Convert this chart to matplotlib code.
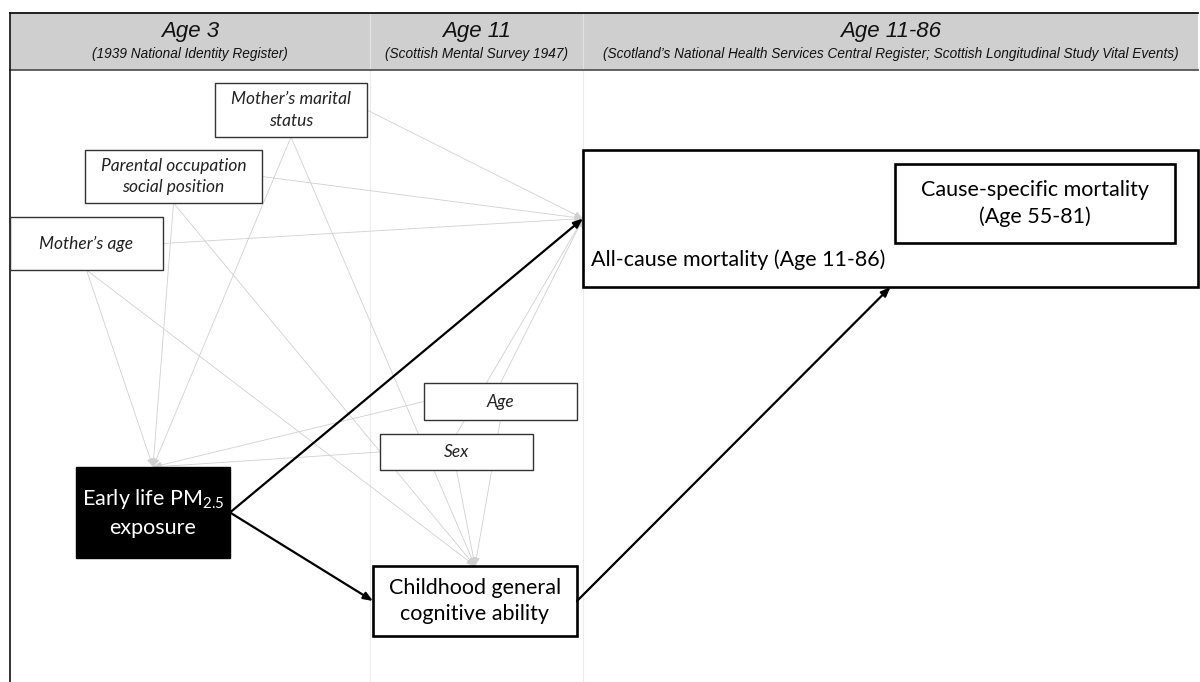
"""DAG: early life PM2.5 exposure, childhood cognitive ability and mortality."""
import matplotlib
matplotlib.use('Agg')
import matplotlib.pyplot as plt
import matplotlib.patches as mpatches

plt.rcParams.update({
    'font.family': 'Lato',
    'mathtext.fontset': 'custom',
    'mathtext.rm': 'Lato',
    'mathtext.it': 'Lato:italic',
})

# ---- content ----
periods = ['Age 3', 'Age 11', 'Age 11-86']
sources = ['(1939 National Identity Register)',
           '(Scottish Mental Survey 1947)',
           "(Scotland\u2019s National Health Services Central Register; "
           "Scottish Longitudinal Study Vital Events)"]

confounders = ['marital', 'parental', 'mage', 'age', 'sex']
labels = {
    'marital': 'Mother\u2019s marital\nstatus',
    'parental': 'Parental occupation\nsocial position',
    'mage': 'Mother\u2019s age',
    'age': 'Age',
    'sex': 'Sex',
    'pm': 'Early life PM$_{2.5}$\nexposure',
    'cog': 'Childhood general\ncognitive ability',
    'allcause': 'All-cause mortality (Age 11-86)',
    'cause': 'Cause-specific mortality\n(Age 55-81)',
}

# edges: (source, source side, target, target side)
gray_edges = [
    ('mage', 'bottom', 'pm', 'top'), ('mage', 'bottom', 'cog', 'top'),
    ('mage', 'right', 'allcause', 'left'),
    ('parental', 'bottom', 'pm', 'top'), ('parental', 'bottom', 'cog', 'top'),
    ('parental', 'right', 'allcause', 'left'),
    ('marital', 'bottom', 'pm', 'top'), ('marital', 'bottom', 'cog', 'top'),
    ('marital', 'right', 'allcause', 'left'),
    ('sex', 'left', 'pm', 'top'), ('sex', 'bottom', 'cog', 'top'),
    ('sex', 'top', 'allcause', 'left'),
    ('age', 'left', 'pm', 'top'), ('age', 'bottom', 'cog', 'top'),
    ('age', 'top', 'allcause', 'left'),
]
main_edges = [
    ('pm', 'right', 'allcause', 'left'),
    ('pm', 'right', 'cog', 'left'),
    ('cog', 'right', 'allcause', 'bottom'),
]

# ---- layout (pixel units, y downwards) ----
W, H = 1200, 682
boxes = {  # x0, y0, x1, y1
    'marital': (215, 83, 367, 137),
    'parental': (85, 150, 262, 203),
    'mage': (10, 217, 163, 270),
    'age': (424, 383, 577, 420),
    'sex': (380, 434, 533, 470),
    'pm': (76, 467, 230, 558),
    'cog': (373, 566, 577, 636),
    'allcause': (583, 150, 1198, 287),
    'cause': (895, 164, 1175, 243),
}
col_edges = [10, 370, 583, 1198]
head_top, head_bot = 13, 70

fig = plt.figure(figsize=(W / 100, H / 100), dpi=100)
ax = fig.add_axes([0, 0, 1, 1])
ax.set_xlim(0, W)
ax.set_ylim(H, 0)
ax.axis('off')


def anchor(name, side):
    x0, y0, x1, y1 = boxes[name]
    return {'top': ((x0 + x1) / 2, y0), 'bottom': ((x0 + x1) / 2, y1),
            'left': (x0, (y0 + y1) / 2), 'right': (x1, (y0 + y1) / 2)}[side]


def rect(name, face='white', edge='#333333', lw=1.0, z=3):
    x0, y0, x1, y1 = boxes[name]
    ax.add_patch(mpatches.Rectangle((x0, y0), x1 - x0, y1 - y0, facecolor=face,
                                    edgecolor=edge, linewidth=lw, zorder=z))


# header band
ax.add_patch(mpatches.Rectangle((col_edges[0], head_top), col_edges[-1] - col_edges[0],
                                head_bot - head_top, facecolor='#d0cfcf',
                                edgecolor='none', zorder=1))
ax.plot([col_edges[0], col_edges[-1]], [head_top, head_top], color='#111111', lw=1.3, zorder=2)
ax.plot([col_edges[0], col_edges[-1]], [head_bot, head_bot], color='#555555', lw=1.3, zorder=2)
ax.plot([col_edges[0], col_edges[0]], [head_top, H], color='#111111', lw=1.2, zorder=2)
for xc in col_edges[1:-1]:
    ax.plot([xc, xc], [head_top, head_bot], color='#e2e2e2', lw=0.8, zorder=1.5)
    ax.plot([xc, xc], [head_bot, H], color='#ececec', lw=0.8, zorder=0.5)

for i, (p, s) in enumerate(zip(periods, sources)):
    xm = (col_edges[i] + col_edges[i + 1]) / 2
    ax.text(xm, 32, p, ha='center', va='center', fontsize=16, style='italic',
            family='Liberation Sans', color='#111111', zorder=3)
    ax.text(xm, 54, s, ha='center', va='center', fontsize=9.8, style='italic',
            family='Liberation Sans', color='#111111', zorder=3)

# confounder edges
for s, ss, t, ts in gray_edges:
    ax.annotate('', xy=anchor(t, ts), xytext=anchor(s, ss),
                arrowprops=dict(arrowstyle='-|>,head_length=0.5,head_width=0.2',
                                color='#d0d0d0', lw=0.6, shrinkA=0, shrinkB=0),
                zorder=1)

# main pathway edges
for s, ss, t, ts in main_edges:
    ax.annotate('', xy=anchor(t, ts), xytext=anchor(s, ss),
                arrowprops=dict(arrowstyle='-|>,head_length=0.55,head_width=0.22',
                                color='black', lw=1.6, shrinkA=0, shrinkB=0),
                zorder=4)

# confounder boxes
for c in confounders:
    rect(c, lw=1.0)
    x0, y0, x1, y1 = boxes[c]
    ax.text((x0 + x1) / 2, (y0 + y1) / 2, labels[c], ha='center', va='center',
            fontsize=12.5, style='italic', color='#222222', linespacing=1.4, zorder=5)

# exposure
rect('pm', face='black', edge='black', lw=1.0)
x0, y0, x1, y1 = boxes['pm']
ax.text((x0 + x1) / 2, (y0 + y1) / 2, labels['pm'], ha='center', va='center',
        fontsize=15.5, color='white', linespacing=1.4, zorder=5)

# mediator
rect('cog', edge='black', lw=1.9)
x0, y0, x1, y1 = boxes['cog']
ax.text((x0 + x1) / 2, (y0 + y1) / 2, labels['cog'], ha='center', va='center',
        fontsize=15.5, color='black', linespacing=1.4, zorder=5)

# outcomes
rect('allcause', edge='black', lw=1.9, z=2)
x0, y0, x1, y1 = boxes['allcause']
ax.text(x0 + 8, 260, labels['allcause'], ha='left', va='center',
        fontsize=15.5, color='black', zorder=5)
rect('cause', edge='black', lw=1.9, z=3)
x0, y0, x1, y1 = boxes['cause']
ax.text((x0 + x1) / 2, (y0 + y1) / 2, labels['cause'], ha='center', va='center',
        fontsize=15.5, color='black', linespacing=1.4, zorder=5)

fig.savefig('out.png', dpi=100, facecolor='white')
plt.close(fig)
